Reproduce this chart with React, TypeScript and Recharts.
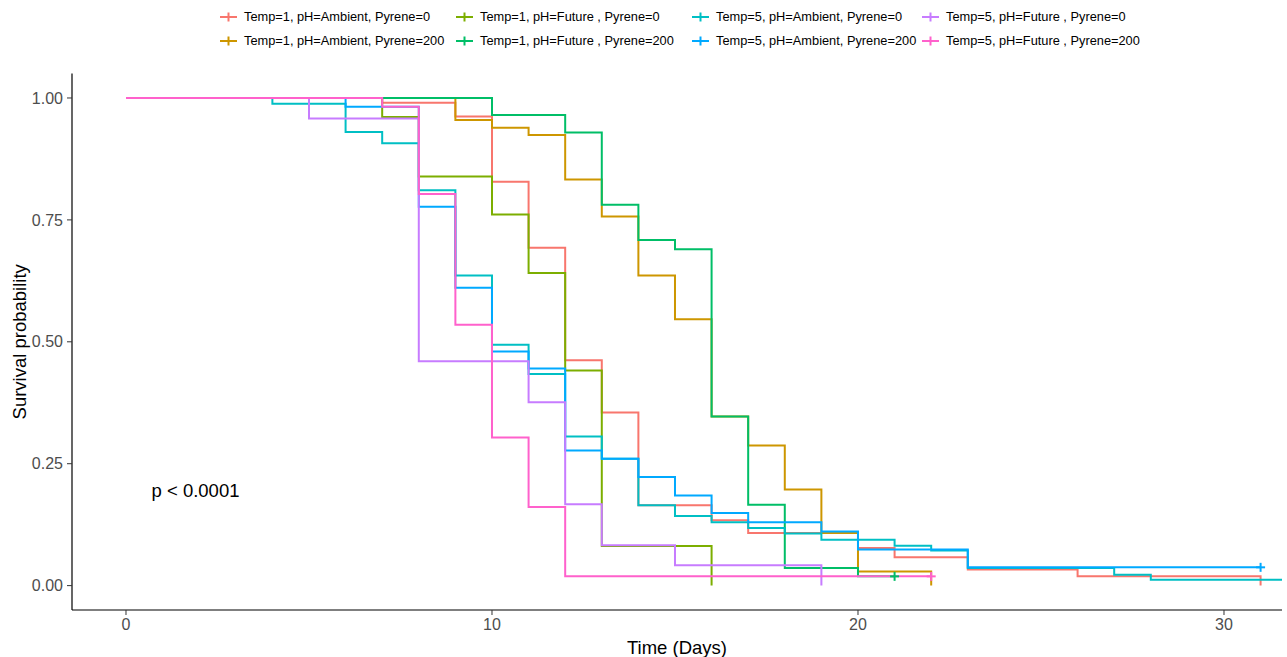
import React from 'react';
import { LineChart, Line, XAxis, YAxis, ReferenceDot } from 'recharts';

const FONT = '"Liberation Sans", Arial, Helvetica, sans-serif';

// Strata (in ggplot draw order)
const seriesNames = [
  'Temp=1, pH=Ambient, Pyrene=0',
  'Temp=1, pH=Ambient, Pyrene=200',
  'Temp=1, pH=Future , Pyrene=0',
  'Temp=1, pH=Future , Pyrene=200',
  'Temp=5, pH=Ambient, Pyrene=0',
  'Temp=5, pH=Ambient, Pyrene=200',
  'Temp=5, pH=Future , Pyrene=0',
  'Temp=5, pH=Future , Pyrene=200',
];
const seriesColors = ['#F8766D', '#CD9600', '#7CAE00', '#00BE67', '#00BFC4', '#00A9FF', '#C77CFF', '#FF61CC'];

// Kaplan-Meier step data: time (days) and survival probability
const t1Amb0 = [0, 7, 9, 10, 11, 12, 13, 14, 16, 17, 20, 21, 23, 26, 31];
const s1Amb0 = [1, 0.99, 0.962, 0.828, 0.693, 0.462, 0.355, 0.165, 0.134, 0.108, 0.077, 0.058, 0.033, 0.019, 0];

const t1Amb200 = [0, 9, 10, 11, 12, 13, 14, 15, 16, 17, 18, 19, 20, 22];
const s1Amb200 = [1, 0.955, 0.939, 0.924, 0.833, 0.757, 0.636, 0.546, 0.347, 0.2875, 0.197, 0.108, 0.029, 0];

const t1Fut0 = [0, 7, 8, 10, 11, 12, 13, 16];
const s1Fut0 = [1, 0.961, 0.839, 0.761, 0.641, 0.441, 0.081, 0];

const t1Fut200 = [0, 10, 12, 13, 14, 15, 16, 17, 18, 20, 21];
const s1Fut200 = [1, 0.965, 0.929, 0.781, 0.709, 0.69, 0.347, 0.166, 0.036, 0.019, 0.019];

const t5Amb0 = [0, 4, 6, 7, 8, 9, 10, 11, 12, 13, 14, 15, 16, 17, 18, 19, 21, 22, 23, 27, 28, 32];
const s5Amb0 = [1, 0.988, 0.93, 0.907, 0.811, 0.636, 0.494, 0.434, 0.306, 0.26, 0.165, 0.143, 0.13, 0.118, 0.107, 0.094, 0.082, 0.072, 0.036, 0.0225, 0.012, 0.012];

const t5Amb200 = [0, 6, 8, 9, 10, 11, 12, 13, 14, 15, 16, 17, 19, 20, 23, 31];
const s5Amb200 = [1, 0.982, 0.777, 0.611, 0.48, 0.445, 0.277, 0.26, 0.223, 0.185, 0.149, 0.13, 0.111, 0.074, 0.0375, 0.0375];

const t5Fut0 = [0, 5, 8, 11, 12, 13, 15, 19];
const s5Fut0 = [1, 0.958, 0.46, 0.376, 0.167, 0.083, 0.0416, 0];

const t5Fut200 = [0, 7, 8, 9, 10, 11, 12, 22];
const s5Fut200 = [1, 0.982, 0.803, 0.535, 0.304, 0.161, 0.019, 0.019];

const seriesTimes = [t1Amb0, t1Amb200, t1Fut0, t1Fut200, t5Amb0, t5Amb200, t5Fut0, t5Fut200];
const seriesSurv = [s1Amb0, s1Amb200, s1Fut0, s1Fut200, s5Amb0, s5Amb200, s5Fut0, s5Fut200];
// censoring mark at the final point (time) or null
const seriesCensor = [null, null, null, 21, null, 31, null, 22];

const xTicks = [0, 10, 20, 30];
const yTicks = [0, 0.25, 0.5, 0.75, 1];
const pValueText = 'p < 0.0001';
const pValuePos = { t: 1.9, s: 0.195 };

// legend layout: row 1 / row 2 series indices
const legendRows = [
  [0, 2, 4, 6],
  [1, 3, 5, 7],
];
const legendColX = [219, 455, 691, 921];
const legendRowY = [17, 41];

const buildSeries = (i: number) =>
  seriesTimes[i].map((t, k) => ({
    t,
    s: seriesSurv[i][k],
    c: seriesCensor[i] !== null && t === seriesCensor[i] && k === seriesTimes[i].length - 1,
  }));

const makeDot = (color: string) => (props: any) => {
  const { cx, cy, payload, index } = props;
  if (!payload || !payload.c) return <g key={`d-${color}-${index}`} />;
  return (
    <g key={`d-${color}-${index}`}>
      <line x1={cx - 4.5} x2={cx + 4.5} y1={cy} y2={cy} stroke={color} strokeWidth={2} />
      <line x1={cx} x2={cx} y1={cy - 4.5} y2={cy + 4.5} stroke={color} strokeWidth={2} />
    </g>
  );
};

const Legend = () => (
  <div style={{ position: 'absolute', left: 0, top: 0, width: 1287, height: 60, pointerEvents: 'none' }}>
    {legendRows.map((row, r) =>
      row.map((si, c) => (
        <div
          key={`${r}-${c}`}
          style={{
            position: 'absolute',
            left: legendColX[c],
            top: legendRowY[r] - 9,
            height: 18,
            display: 'flex',
            alignItems: 'center',
            whiteSpace: 'nowrap',
          }}
        >
          <svg width={20} height={18} style={{ display: 'block' }}>
            <line x1={1} x2={18} y1={9} y2={9} stroke={seriesColors[si]} strokeWidth={2} />
            <line x1={9.5} x2={9.5} y1={4.5} y2={13.5} stroke={seriesColors[si]} strokeWidth={2} />
          </svg>
          <span style={{ marginLeft: 5, fontFamily: FONT, fontSize: 12.8, color: '#000', lineHeight: '18px' }}>
            {seriesNames[si]}
          </span>
        </div>
      ))
    )}
  </div>
);

export default function App() {
  return (
    <div style={{ position: 'absolute', left: 0, top: 0, width: 1287, height: 657, background: '#fff' }}>
      <Legend />
      <LineChart width={1287} height={657} margin={{ top: 73.6, right: 5, bottom: 0, left: 0 }}>
        <XAxis
          type="number"
          dataKey="t"
          domain={[-1.475, 31.585]}
          ticks={xTicks}
          allowDataOverflow
          height={47}
          tickSize={5}
          tickMargin={4}
          stroke="#000"
          tick={{ fill: '#4D4D4D', fontSize: 16, fontFamily: FONT }}
          tickLine={{ stroke: '#333' }}
          axisLine={{ stroke: '#000', strokeWidth: 1.2 }}
          label={{
            content: (p: any) => {
              const vb = p.viewBox;
              return (
                <text
                  x={vb.x + vb.width / 2}
                  y={vb.y + 37}
                  textAnchor="middle"
                  dominantBaseline="central"
                  fontSize={18.5}
                  fontFamily={FONT}
                  fill="#000"
                >
                  Time (Days)
                </text>
              );
            },
          }}
        />
        <YAxis
          type="number"
          domain={[-0.05, 1.05]}
          ticks={yTicks}
          allowDataOverflow
          width={72}
          tickSize={5}
          tickMargin={4}
          tickFormatter={(v: number) => v.toFixed(2)}
          tick={{ fill: '#4D4D4D', fontSize: 16, fontFamily: FONT }}
          tickLine={{ stroke: '#333' }}
          axisLine={{ stroke: '#000', strokeWidth: 1.2 }}
          label={{
            content: (p: any) => {
              const vb = p.viewBox;
              const cx = vb.x + 20;
              const cy = vb.y + vb.height / 2;
              return (
                <text
                  x={cx}
                  y={cy}
                  transform={`rotate(-90 ${cx} ${cy})`}
                  textAnchor="middle"
                  dominantBaseline="central"
                  fontSize={18.5}
                  fontFamily={FONT}
                  fill="#000"
                >
                  Survival probability
                </text>
              );
            },
          }}
        />
        {seriesNames.map((name, i) => (
          <Line
            key={name}
            name={name}
            data={buildSeries(i)}
            dataKey="s"
            type="stepAfter"
            stroke={seriesColors[i]}
            strokeWidth={2}
            dot={makeDot(seriesColors[i])}
            activeDot={false}
            isAnimationActive={false}
          />
        ))}
        <ReferenceDot
          x={pValuePos.t}
          y={pValuePos.s}
          r={0}
          fill="none"
          stroke="none"
          label={{ value: pValueText, position: 'center', fontSize: 18.5, fontFamily: FONT, fill: '#000' }}
        />
      </LineChart>
    </div>
  );
}
